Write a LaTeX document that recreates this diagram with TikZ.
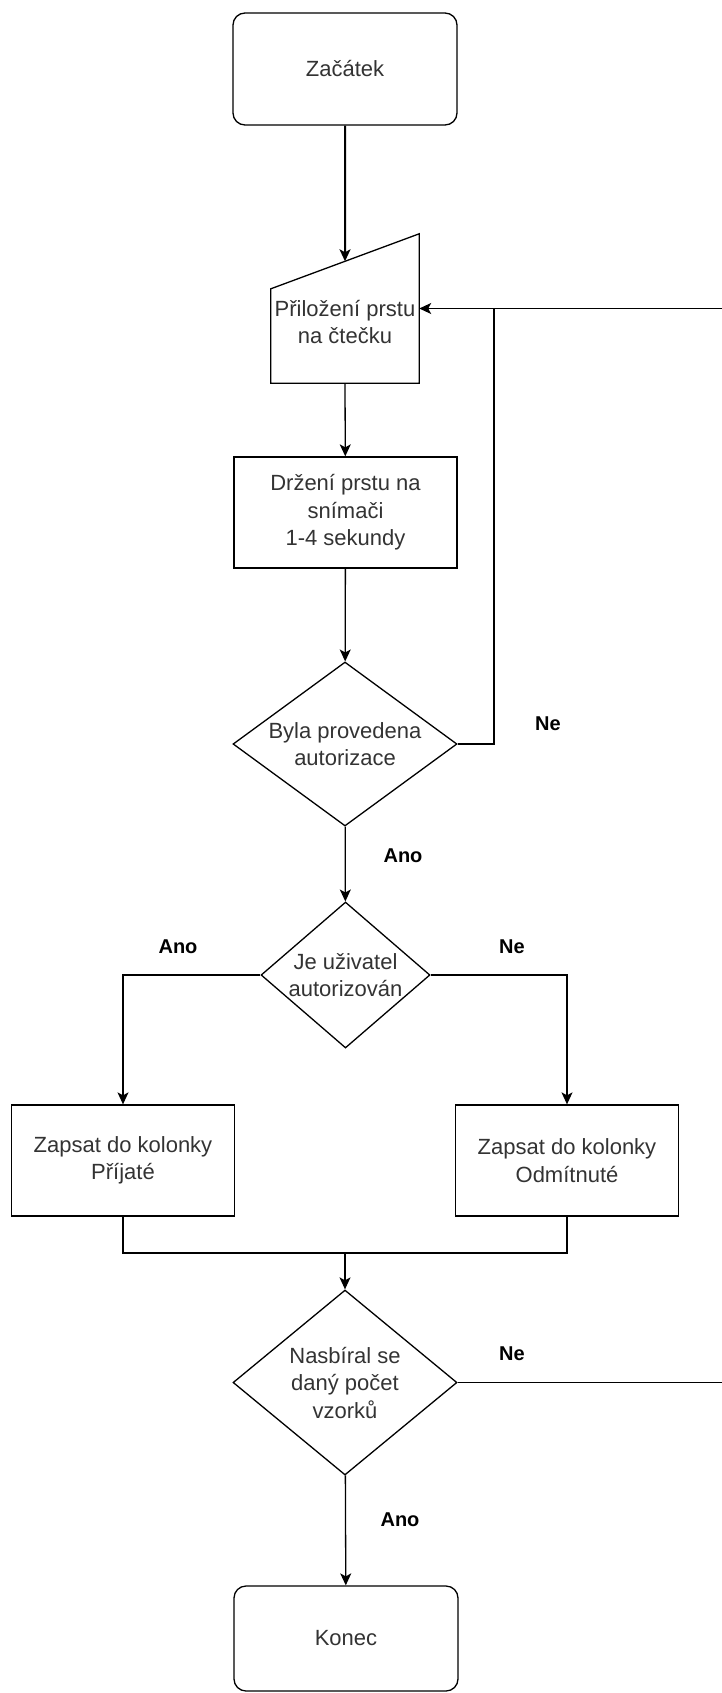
\documentclass[tikz,border=0pt]{standalone}
\usepackage{fontspec}
\setmainfont{Liberation Sans}
\usetikzlibrary{shapes.geometric}
\usetikzlibrary{arrows.meta}
\usetikzlibrary{calc}
\tikzset{
  flow_node/.style = {align=center, inner sep=0pt, text=black!80,
    font=\fontsize{22}{27.5}\selectfont, draw=black, line width=1.3pt},
  term_node/.style = {flow_node, rectangle, rounded corners=12pt,
    minimum width=224pt, minimum height=112pt},% zacatek, konec
  step_node/.style = {flow_node, rectangle,
    minimum width=223pt, minimum height=111pt},% krok
  ask_node/.style = {flow_node, diamond},% rozhodnuti
  input_node/.style = {rectangle, inner sep=0pt,
    minimum width=148pt, minimum height=149pt},% rucni vstup
  flow_arrow/.style = {line width=1.3pt,
    -{Stealth[length=12pt, width=11pt, inset=3pt]}},
  join_line/.style = {line width=1.3pt},
  answer/.style = {font=\bfseries\fontsize{20}{24}\selectfont, inner sep=0pt}
}
\begin{document}
\begin{tikzpicture}[x=1pt, y=-1pt]
    \useasboundingbox (0,0) rectangle (722,1693);

    \node [term_node] (start) at (345,69) {Začátek};

    \node [input_node] (prst) at (345,308.5) {};
    \draw [line width=1.3pt] (prst.south west) -- (prst.south east)
      -- (prst.north east) -- ([yshift=-55pt]prst.north west) -- cycle;
    \coordinate (prst_top) at ($(prst.north east)!0.5!([yshift=-55pt]prst.north west)$);
    \node [flow_node, draw=none] (prst_txt) at (345,322) {Přiložení prstu\\na čtečku};

    \node [step_node] (hold) at (345.5,512.5) {Držení prstu na\\snímači\\1-4 sekundy};
    \node [ask_node, aspect=1.366, minimum width=224pt, minimum height=164pt]
      (auth) at (345,744) {Byla provedena\\autorizace};
    \node [ask_node, aspect=1.158, minimum width=169pt, minimum height=146pt]
      (user) at (345.5,975) {Je uživatel\\autorizován};
    \node [step_node] (acc) at (123,1160.5) {Zapsat do kolonky\\Příjaté};
    \node [step_node] (rej) at (567,1160.5) {Zapsat do kolonky\\Odmítnuté};
    \node [ask_node, aspect=1.21, minimum width=224pt, minimum height=185pt]
      (count) at (345,1382.5) {Nasbíral se\\daný počet\\vzorků};
    \node [term_node, minimum height=105pt] (end) at (346,1638.5) {Konec};

    \coordinate (fb_top) at (494,308.5);
    \coordinate (edge_top) at (722,308.5);
    \coordinate (merge) at (345,1253);
    \coordinate (edge_bot) at (722,1382.5);

    \draw [flow_arrow, line width=2pt] (start) -- (prst_top);
    \draw [flow_arrow] (prst.south) -- (hold);
    \draw [flow_arrow] (hold) -- (auth);
    \draw [flow_arrow] (edge_top) -- (prst.east);
    \draw [join_line] (auth.east) -| (fb_top);
    \draw [flow_arrow] (auth) -- (user);
    \draw [flow_arrow] (user.west) -| (acc.north);
    \draw [flow_arrow] (user.east) -| (rej.north);
    \draw [join_line] (acc.south) |- (merge) -| (rej.south);
    \draw [flow_arrow] (merge) -- (count);
    \draw [join_line] (count.east) -- (edge_bot);
    \draw [flow_arrow] (count) -- (end);

    \node [answer] (ne_auth) at (548,724) {Ne};
    \node [answer] (ano_auth) at (403,856) {Ano};
    \node [answer] (ano_user) at (178,947) {Ano};
    \node [answer] (ne_user) at (512,947) {Ne};
    \node [answer] (ne_count) at (512,1354) {Ne};
    \node [answer] (ano_count) at (400,1520) {Ano};
  \end{tikzpicture}
\end{document}
